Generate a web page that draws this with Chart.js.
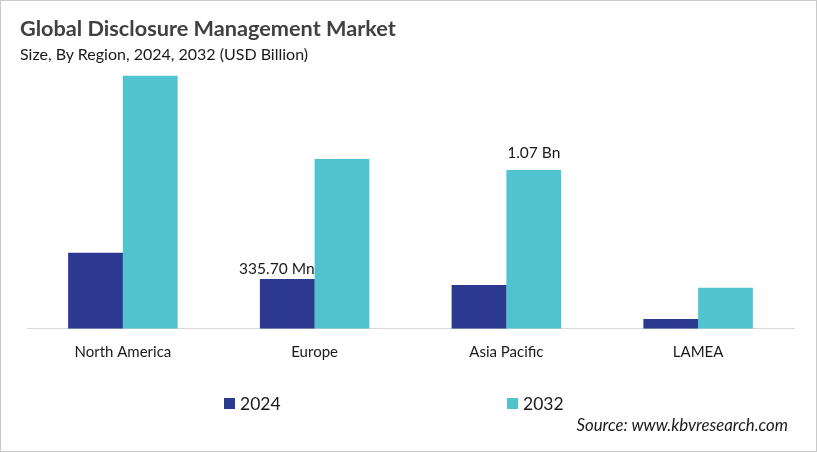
<!DOCTYPE html>
<html>
<head>
<meta charset="utf-8">
<script src="https://cdn.jsdelivr.net/npm/chart.js@4/dist/chart.umd.min.js"></script>
<style>
  html, body { margin: 0; padding: 0; background: #fff; }
  #frame { position: relative; width: 817px; height: 452px; box-sizing: border-box; border: 1px solid #c9c9c9; overflow: hidden; font-family: Lato, "Noto Sans", sans-serif; }
  #chartWrap { position: absolute; left: -1px; top: -1px; width: 817px; height: 452px; }
  #title { position: absolute; left: 19px; top: 14px; font-size: 21.7px; font-weight: bold; color: #404040; white-space: nowrap; }
  #subtitle { position: absolute; left: 19px; top: 43px; font-size: 16px; color: #1a1a1a; white-space: nowrap; }
  #legend { position: absolute; left: 0; top: 390px; width: 817px; height: 24px; }
  .lg { position: absolute; top: 0; display: flex; align-items: center; font-size: 17.5px; color: #1a1a1a; height: 24px; }
  .lg span.box { display: inline-block; width: 11px; height: 11px; margin-right: 5px; }
  #source { position: absolute; right: 28px; top: 413px; font-size: 16.8px; font-style: italic; color: #1a1a1a; white-space: nowrap; }
</style>
</head>
<body>
<div id="frame">
  <div id="chartWrap"><canvas id="c" width="817" height="452"></canvas></div>
  <div id="title">Global Disclosure Management Market</div>
  <div id="subtitle">Size, By Region, 2024, 2032 (USD Billion)</div>
  <div id="legend"></div>
  <div id="source">Source: www.kbvresearch.com</div>
</div>
<script>
// ---- data ----
const categories = ["North America", "Europe", "Asia Pacific", "LAMEA"];
const seriesNames = ["2024", "2032"];
const values2024 = [0.512, 0.3357, 0.295, 0.066];
const values2032 = [1.704, 1.143, 1.07, 0.277];
const labels2024 = ["", "335.70 Mn", "", ""];
const labels2032 = ["", "", "1.07 Bn", ""];
const colors = ["#2b3990", "#4fc4cf"];

const valueLabelPlugin = {
  id: "valueLabels",
  afterDatasetsDraw(chart, args, opts) {
    const ctx = chart.ctx;
    ctx.save();
    ctx.font = "15.5px Lato, 'Noto Sans', sans-serif";
    ctx.fillStyle = "#1a1a1a";
    ctx.textBaseline = "alphabetic";
    chart.data.datasets.forEach((ds, di) => {
      const meta = chart.getDatasetMeta(di);
      ds.valueLabels.forEach((txt, i) => {
        if (!txt) return;
        const bar = meta.data[i];
        const align = opts.align[di];
        let x = bar.x;
        if (align === "right") { ctx.textAlign = "right"; x = bar.x + bar.width / 2; }
        else { ctx.textAlign = "center"; }
        ctx.fillText(txt, x, bar.y - opts.gap[di]);
      });
    });
    ctx.restore();
  }
};

const chart = new Chart(document.getElementById("c"), {
  type: "bar",
  data: {
    labels: categories,
    datasets: [
      { label: seriesNames[0], data: values2024, backgroundColor: colors[0], valueLabels: labels2024 },
      { label: seriesNames[1], data: values2032, backgroundColor: colors[1], valueLabels: labels2032 }
    ]
  },
  options: {
    responsive: false,
    animation: false,
    devicePixelRatio: 1,
    layout: { padding: { left: 27, right: 23, top: 61.5, bottom: 83.2 } },
    datasets: { bar: { categoryPercentage: 0.571, barPercentage: 1.0 } },
    plugins: {
      legend: { display: false },
      title: { display: false },
      tooltip: { enabled: false },
      valueLabels: { align: ["right", "center"], gap: [4.5, 12] }
    },
    scales: {
      x: {
        grid: { display: false, drawTicks: false },
        border: { display: true, color: "#d9d9d9", width: 1 },
        ticks: { color: "#1a1a1a", font: { family: "Lato, 'Noto Sans', sans-serif", size: 15 }, padding: 14 },
        afterFit(s) { s.height = 40; }
      },
      y: { display: false, min: 0, max: 1.8 }
    }
  },
  plugins: [valueLabelPlugin]
});

// legend generated from the chart's datasets
const legendPos = [223, 506];
const lg = document.getElementById("legend");
chart.data.datasets.forEach((ds, i) => {
  const d = document.createElement("div");
  d.className = "lg";
  d.style.left = legendPos[i] + "px";
  d.innerHTML = '<span class="box" style="background:' + ds.backgroundColor + '"></span>' + ds.label;
  lg.appendChild(d);
});
</script>
</body>
</html>
